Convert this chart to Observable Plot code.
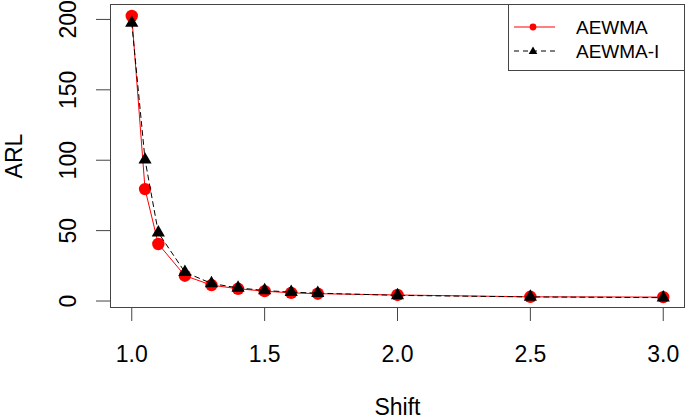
<!DOCTYPE html>
<html><head><meta charset="utf-8">
<script src="https://cdn.jsdelivr.net/npm/d3@7"></script>
<script src="https://cdn.jsdelivr.net/npm/@observablehq/plot@0.6"></script>
<style>
body{margin:0;background:#fff;}
#wrap{position:relative;width:685px;height:419px;font-family:"Liberation Sans",Arial,sans-serif;}
#legend{position:absolute;left:508px;top:4px;width:177px;height:67px;border:1px solid #444;background:#fff;box-sizing:border-box;}
#legend svg{position:absolute;left:-1px;top:-1px;}
</style></head><body><div id="wrap"></div>
<script>
// Data
const shift  = [1.0, 1.05, 1.1, 1.2, 1.3, 1.4, 1.5, 1.6, 1.7, 2.0, 2.5, 3.0];
const aewma  = [202.5, 79.5, 40.5, 18.0, 11.3, 8.7, 7.0, 5.8, 5.2, 4.3, 3.0, 2.8];
const aewmaI = [197.5, 100.3, 48.5, 20.5, 12.5, 9.3, 7.5, 6.3, 5.6, 4.0, 2.9, 2.4];
const seriesNames = ["AEWMA", "AEWMA-I"];
const xTicks = [1.0, 1.5, 2.0, 2.5, 3.0];
const yTicks = [0, 50, 100, 150, 200];

const FONT = '"Liberation Sans", Arial, sans-serif';
const plot = Plot.plot({
  width: 685, height: 419,
  marginLeft: 110, marginRight: 1, marginTop: 4, marginBottom: 112,
  x: {domain: [0.92, 3.08]},
  y: {domain: [-4.6, 210.6]},
  style: {fontFamily: FONT, fontSize: "23px", color: "#000", background: "#fff", overflow: "visible"},
  marks: [
    Plot.frame({stroke: "#444"}),
    Plot.axisX({ticks: xTicks, tickSize: 14, tickPadding: 24, tickFormat: d3.format(".1f"), label: null, stroke: "#444", fill: "#000"}),
    Plot.axisY({ticks: yTicks, tickSize: 14, tickFormat: () => "", label: null, stroke: "#444"}),
    Plot.text(yTicks, {y: d => d, text: d => String(d), frameAnchor: "left", dx: -35, rotate: -90, lineAnchor: "bottom", textAnchor: "middle", fill: "#000"}),
    Plot.text(["ARL"], {text: d => d, frameAnchor: "left", dx: -89, rotate: -90, lineAnchor: "bottom", textAnchor: "middle", fill: "#000"}),
    Plot.text(["Shift"], {text: d => d, frameAnchor: "bottom", dy: 107, lineAnchor: "bottom", textAnchor: "middle", fill: "#000"}),
    Plot.line(shift, {x: d => d, y: (d, i) => aewma[i], stroke: "#ff0000", strokeWidth: 1}),
    Plot.dot(shift, {x: d => d, y: (d, i) => aewma[i], r: 6.2, fill: "#ff0000", stroke: "none"}),
    Plot.line(shift, {x: d => d, y: (d, i) => aewmaI[i], stroke: "#000", strokeWidth: 1, strokeDasharray: "5,4"}),
    Plot.dot(shift, {x: d => d, y: (d, i) => aewmaI[i], r: 4.9, symbol: "triangle", fill: "#000", stroke: "none"})
  ]
});
const wrap = document.getElementById("wrap");
wrap.appendChild(plot);

// Legend
const leg = document.createElement("div");
leg.id = "legend";
leg.innerHTML = `<svg width="177" height="67" style="font-family:${FONT.replace(/"/g,"'")};font-size:19px">
  <line x1="6" x2="47" y1="23" y2="23" stroke="#ff0000" stroke-width="1"/>
  <circle cx="25" cy="23" r="3.4" fill="#ff0000"/>
  <text x="68" y="23" dy="0.35em" fill="#000">${seriesNames[0]}</text>
  <line x1="6" x2="47" y1="47" y2="47" stroke="#000" stroke-width="1" stroke-dasharray="5,4"/>
  <path d="M25,42.5 L29.3,50 L20.7,50 Z" fill="#000"/>
  <text x="68" y="47" dy="0.35em" fill="#000">${seriesNames[1]}</text>
</svg>`;
wrap.appendChild(leg);
</script>
</body></html>
